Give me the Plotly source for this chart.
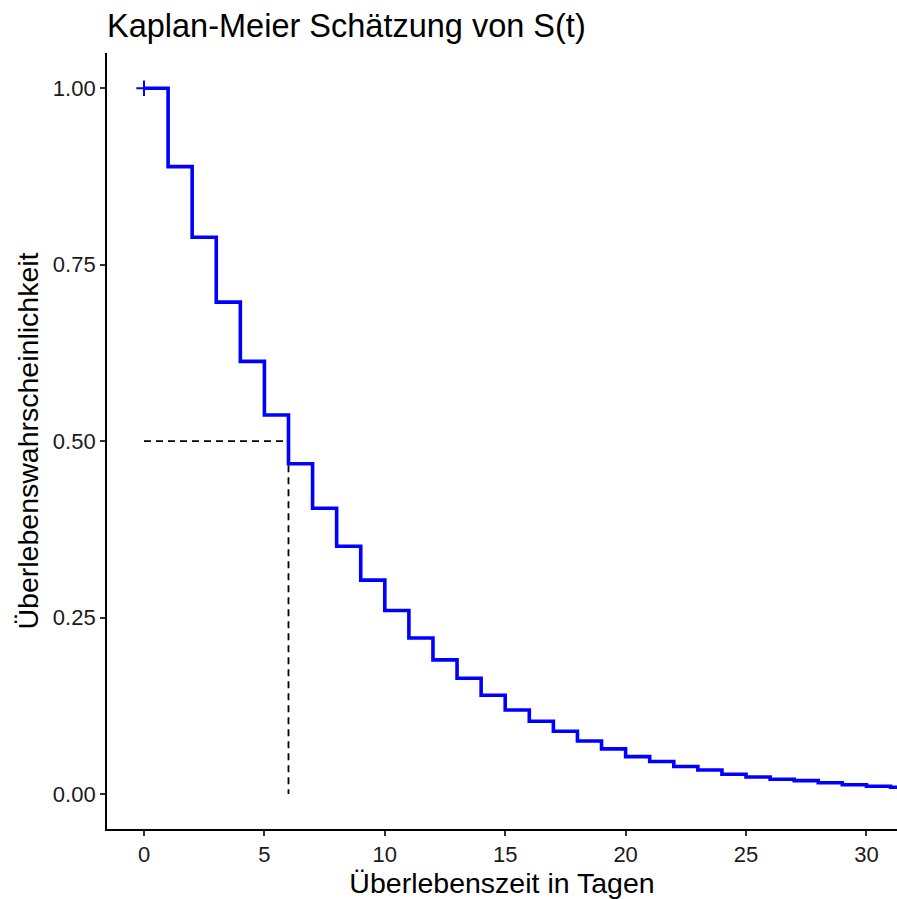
import plotly.graph_objects as go

# Kaplan-Meier estimate
time = list(range(0, 33))
surv = [1.000, 0.889, 0.789, 0.697, 0.613, 0.537, 0.468, 0.405, 0.351, 0.303,
        0.260, 0.221, 0.190, 0.164, 0.140, 0.119, 0.103, 0.089, 0.075, 0.064,
        0.053, 0.046, 0.039, 0.034, 0.028, 0.024, 0.021, 0.019, 0.016, 0.013,
        0.011, 0.0095, 0.0083]

censor_time = [0.0]
censor_surv = [1.0]

median_time = 6
median_surv = 0.5

x_ticks = [0, 5, 10, 15, 20, 25, 30]
y_ticks = [0, 0.25, 0.5, 0.75, 1.0]
y_labels = ["0.00", "0.25", "0.50", "0.75", "1.00"]

title_text = "Kaplan-Meier Schätzung von S(t)"
x_title = "Überlebenszeit in Tagen"
y_title = "Überlebenswahrscheinlichkeit"

FONT = "Liberation Sans, Arial, sans-serif"

fig = go.Figure()

# median guide lines
fig.add_trace(go.Scatter(
    x=[0, median_time], y=[median_surv, median_surv], mode="lines",
    line=dict(color="black", width=1.8, dash="7px,5px"), hoverinfo="skip",
    showlegend=False))
fig.add_trace(go.Scatter(
    x=[median_time, median_time], y=[median_surv, 0], mode="lines",
    line=dict(color="black", width=1.8, dash="7px,5px"), hoverinfo="skip",
    showlegend=False))

# survival curve
fig.add_trace(go.Scatter(
    x=time, y=surv, mode="lines", line=dict(color="#0000FF", width=3.6, shape="hv"),
    showlegend=False))

# censoring marks
fig.add_trace(go.Scatter(
    x=censor_time, y=censor_surv, mode="markers",
    marker=dict(symbol="cross-thin", size=11, line=dict(color="#0000FF", width=2)),
    showlegend=False))

fig.update_layout(
    width=897, height=899,
    margin=dict(l=107, r=0, t=53, b=70),
    paper_bgcolor="white", plot_bgcolor="white",
    font=dict(family=FONT, color="black"),
    title=dict(text=title_text, font=dict(size=32.5, color="black", family=FONT),
               xref="paper", x=0, xanchor="left",
               yref="container", y=1 - 26 / 899, yanchor="middle"),
)

fig.update_xaxes(
    range=[-1.537, 31.27], tickvals=x_ticks, ticktext=[str(v) for v in x_ticks],
    showgrid=False, zeroline=False,
    showline=True, linecolor="black", linewidth=1.8,
    ticks="outside", ticklen=5, tickwidth=1.6, tickcolor="#333333",
    tickfont=dict(size=22, color="#1a1a1a", family=FONT),
    title=dict(text=x_title, font=dict(size=28.5, color="black", family=FONT), standoff=3),
)
fig.update_yaxes(
    range=[-0.0496, 1.05], tickvals=y_ticks, ticktext=y_labels,
    showgrid=False, zeroline=False,
    showline=True, linecolor="black", linewidth=1.8,
    ticks="outside", ticklen=5, tickwidth=1.6, tickcolor="#333333",
    tickfont=dict(size=22, color="#1a1a1a", family=FONT),
    title=dict(text=y_title, font=dict(size=28.5, color="black", family=FONT), standoff=6),
)

fig.write_html("out.html")
